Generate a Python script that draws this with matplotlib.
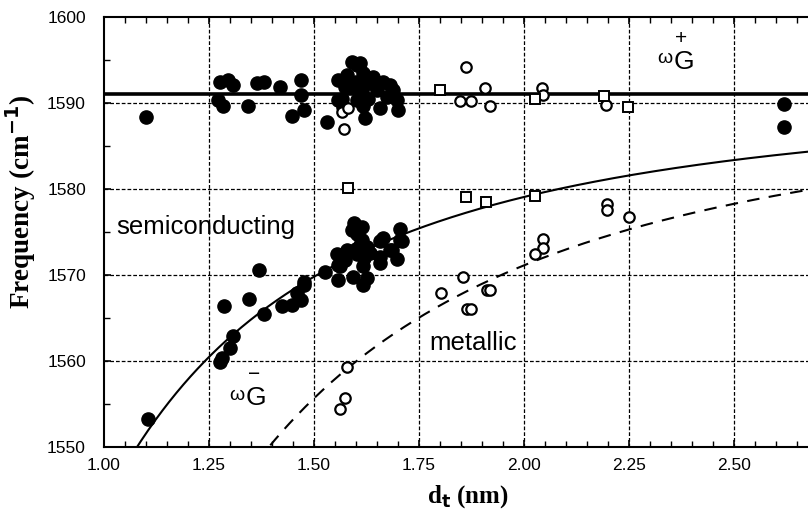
import numpy as np
import matplotlib
matplotlib.use("Agg")
import matplotlib.pyplot as plt
from matplotlib.ticker import MultipleLocator

# ---------------- data ----------------
semi_gplus_d = [1.100, 1.276, 1.296, 1.308, 1.272, 1.284, 1.344, 1.364, 1.380, 1.420,
                1.447, 1.470, 1.470, 1.475, 1.530, 1.558, 1.557, 1.578, 1.590, 1.610,
                1.617, 1.594, 1.614, 1.633, 1.649, 1.665, 1.680, 1.689, 1.697, 1.701,
                1.657, 1.617, 1.621, 1.602, 1.629, 1.673, 1.574, 1.566, 1.569, 1.626,
                1.602, 1.640, 1.600, 1.585, 2.620, 2.620]
semi_gplus_w = [1588.4, 1592.4, 1592.7, 1592.1, 1590.4, 1589.6, 1589.6, 1592.3, 1592.4, 1591.9,
                1588.5, 1592.7, 1590.9, 1589.2, 1587.8, 1590.3, 1592.7, 1593.3, 1594.8, 1594.6,
                1593.5, 1591.9, 1591.5, 1592.3, 1591.5, 1592.5, 1592.1, 1591.5, 1590.3, 1589.2,
                1589.4, 1589.6, 1588.2, 1590.3, 1590.5, 1590.7, 1591.9, 1590.5, 1589.5, 1592.7,
                1594.4, 1593.0, 1592.5, 1592.0, 1589.9, 1587.2]

semi_gminus_d = [1.104, 1.276, 1.280, 1.300, 1.308, 1.286, 1.345, 1.370, 1.381, 1.423,
                 1.447, 1.459, 1.468, 1.475, 1.475, 1.526, 1.558, 1.558, 1.554, 1.594,
                 1.614, 1.602, 1.617, 1.657, 1.664, 1.657, 1.685, 1.697, 1.705, 1.705,
                 1.633, 1.617, 1.578, 1.569, 1.625, 1.593, 1.602, 1.614, 1.574, 1.562,
                 1.625, 1.657, 1.680, 1.709, 1.610, 1.600, 1.590, 1.620]
semi_gminus_w = [1553.2, 1559.9, 1560.3, 1561.5, 1562.9, 1566.4, 1567.2, 1570.6, 1565.5, 1566.4,
                 1566.5, 1567.9, 1567.1, 1568.8, 1569.2, 1570.4, 1569.4, 1571.2, 1572.5, 1576.0,
                 1575.6, 1572.5, 1568.8, 1573.9, 1574.3, 1571.4, 1572.9, 1571.9, 1574.1, 1575.4,
                 1572.6, 1571.0, 1572.9, 1571.7, 1573.3, 1569.8, 1574.8, 1574.1, 1571.7, 1571.0,
                 1569.6, 1572.1, 1572.9, 1573.9, 1573.5, 1573.0, 1575.2, 1572.0]

met_gplus_circ_d = [1.566, 1.582, 1.571, 1.862, 1.848, 1.873, 1.907, 1.919, 2.042, 2.046, 2.194]
met_gplus_circ_w = [1589.0, 1589.4, 1587.0, 1594.2, 1590.2, 1590.2, 1591.7, 1589.7, 1591.7, 1590.9, 1589.8]
met_gplus_sq_d = [1.800, 2.026, 2.190, 2.247]
met_gplus_sq_w = [1591.5, 1590.5, 1590.8, 1589.5]

met_gminus_circ_d = [2.197, 2.197, 2.249, 2.044, 2.046, 2.026, 1.854, 1.802, 1.911, 1.920,
                     1.863, 1.873, 1.578, 1.574, 1.562]
met_gminus_circ_w = [1578.3, 1577.6, 1576.7, 1574.2, 1573.1, 1572.5, 1569.8, 1567.9, 1568.3, 1568.2,
                     1566.1, 1566.1, 1559.3, 1555.7, 1554.4]
met_gminus_sq_d = [1.580, 1.861, 1.909, 2.026]
met_gminus_sq_w = [1580.1, 1579.1, 1578.5, 1579.2]

# fit: omega_G+ = const, omega_G- = omega_G+ - C / d^2
omega_plus = 1591.0
C_semi = 47.7
C_met = 79.5

xticks = [1.00, 1.25, 1.50, 1.75, 2.00, 2.25, 2.50]
yticks = [1550, 1560, 1570, 1580, 1590, 1600]

# ---------------- figure ----------------
fig = plt.figure(figsize=(8.08, 5.15), dpi=100)
ax = fig.add_axes([104 / 808, 68 / 515, 704 / 808, 430 / 515])

sans = "Liberation Sans"
serif = "Liberation Serif"

ax.set_xlim(1.0, 2.676)
ax.set_ylim(1550, 1600)

# grid
grid_kw = dict(color="black", lw=0.9, ls=(0, (3, 1.6)), zorder=1)
for xv in xticks[1:]:
    ax.axvline(xv, **grid_kw)
for yv in yticks[1:-1]:
    ax.axhline(yv, **grid_kw)

# fit curves
d = np.linspace(1.0, 2.676, 400)
ax.axhline(omega_plus, color="black", lw=2.6, zorder=3)
ax.plot(d, omega_plus - C_semi / d ** 2, color="black", lw=1.5, zorder=3)
ax.plot(d, omega_plus - C_met / d ** 2, color="black", lw=1.5, ls=(0, (6, 4.5)), zorder=3)

# data points
ax.plot(semi_gplus_d, semi_gplus_w, "o", color="black", ms=9.5, zorder=4, clip_on=False)
ax.plot(semi_gminus_d, semi_gminus_w, "o", color="black", ms=9.5, zorder=4)
open_c = dict(marker="o", ls="none", mfc="white", mec="black", ms=7.5, mew=1.6, zorder=5)
open_s = dict(marker="s", ls="none", mfc="white", mec="black", ms=7.5, mew=1.4, zorder=5)
ax.plot(met_gplus_circ_d, met_gplus_circ_w, **open_c)
ax.plot(met_gminus_circ_d, met_gminus_circ_w, **open_c)
ax.plot(met_gplus_sq_d, met_gplus_sq_w, **open_s)
ax.plot(met_gminus_sq_d, met_gminus_sq_w, **open_s)

# text labels
ax.text(1.03, 1575.6, "semiconducting", family=sans, fontsize=18.5, va="center", ha="left", zorder=6)
ax.text(1.775, 1562.1, "metallic", family=sans, fontsize=18.5, va="center", ha="left", zorder=6)


def omega_label(x, y, sign):
    ax.text(x, y, "ω", family=sans, fontsize=14, ha="right", va="baseline", zorder=6)
    ax.text(x + 0.003, y - 0.6, "G", family=sans, fontsize=19, ha="left", va="baseline", zorder=6)
    ax.text(x + 0.022, y + 2.3, sign, family=sans, fontsize=15, ha="center", va="baseline", zorder=6)


omega_label(1.335, 1555.5, "−")
omega_label(2.352, 1594.6, "+")

# axes styling
for s in ["left", "bottom", "top"]:
    ax.spines[s].set_linewidth(1.5)
ax.spines["right"].set_visible(False)

ax.set_xticks(xticks)
ax.set_yticks(yticks)
ax.xaxis.set_minor_locator(MultipleLocator(0.05))
ax.yaxis.set_minor_locator(MultipleLocator(5))
ax.tick_params(which="both", direction="in", top=True, right=False)
ax.tick_params(which="major", length=5, width=1.2)
ax.tick_params(which="minor", length=4, width=1.0)
ax.tick_params(axis="x", pad=8)
ax.tick_params(axis="y", pad=13)
ax.set_xticklabels([f"{v:.2f}" for v in xticks], family=sans, fontsize=12.5)
ax.set_yticklabels([str(v) for v in yticks], family=sans, fontsize=12.5)

ax.set_ylabel("Frequency (cm$^{\\mathbf{-1}}$)", family=serif, fontweight="bold", fontsize=19.5)
ax.yaxis.set_label_coords(-0.094, 0.57)
ax.set_xlabel("d$_\\mathbf{t}$ (nm)", family=serif, fontweight="bold", fontsize=18)
ax.xaxis.set_label_coords(0.517, -0.085)

fig.savefig("out.png", dpi=100)
